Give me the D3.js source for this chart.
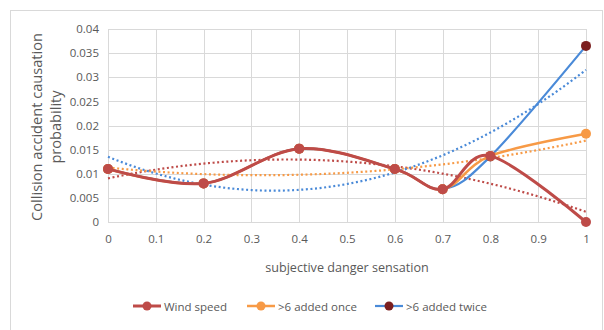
<!DOCTYPE html>
<html>
<head>
<meta charset="utf-8">
<script src="https://cdn.jsdelivr.net/npm/d3@7"></script>
<style>
  html, body { margin: 0; padding: 0; background: #fff; }
  svg text { font-family: "Open Sans", "Noto Sans", sans-serif; fill: #595959; }
</style>
</head>
<body>
<svg id="chart" width="604" height="330"></svg>
<script>
// Subjective danger sensation (x) for each observation
const xValues = [0, 0.2, 0.4, 0.6, 0.7, 0.8, 1];
// Collision accident causation probability per series
const windSpeed   = [0.011, 0.008, 0.0152, 0.011, 0.0068, 0.0137, 0];
const addedOnce   = [0.011, 0.008, 0.0152, 0.011, 0.0068, 0.0137, 0.0183];
const addedTwice  = [0.011, 0.008, 0.0152, 0.011, 0.0068, 0.0136, 0.0365];
const seriesNames = ["Wind speed", ">6 added once", ">6 added twice"];
const xTicks = [0, 0.1, 0.2, 0.3, 0.4, 0.5, 0.6, 0.7, 0.8, 0.9, 1];
const yTicks = [0, 0.005, 0.01, 0.015, 0.02, 0.025, 0.03, 0.035, 0.04];

const series = [
  { name: seriesNames[0], values: windSpeed,  line: "#be4b48", marker: "#be4b48", trend: "#be4b48", width: 3 },
  { name: seriesNames[1], values: addedOnce,  line: "#f79a46", marker: "#f79a46", trend: "#f79a46", width: 2.5 },
  { name: seriesNames[2], values: addedTwice, line: "#4a8ad8", marker: "#7b1f1f", trend: "#4a8ad8", width: 2.2 }
];

const svg = d3.select("#chart");
const plotLeft = 108, plotRight = 586, plotTop = 29, plotBottom = 222;

// outer chart frame
svg.append("rect").attr("x", 10.5).attr("y", 10.5).attr("width", 592).attr("height", 330)
  .attr("fill", "none").attr("stroke", "#d9d9d9");

const x = d3.scaleLinear().domain([0, 1]).range([plotLeft, plotRight]);
const y = d3.scaleLinear().domain([0, 0.04]).range([plotBottom, plotTop]);

// gridlines
svg.append("g").selectAll("line").data(yTicks).join("line")
  .attr("x1", plotLeft).attr("x2", plotRight)
  .attr("y1", d => Math.round(y(d)) + 0.5).attr("y2", d => Math.round(y(d)) + 0.5)
  .attr("stroke", "#d9d9d9").attr("stroke-width", 1);
svg.append("g").selectAll("line").data(xTicks).join("line")
  .attr("y1", plotTop).attr("y2", plotBottom)
  .attr("x1", d => Math.round(x(d)) + 0.5).attr("x2", d => Math.round(x(d)) + 0.5)
  .attr("stroke", "#d9d9d9").attr("stroke-width", 1);

// axes (labels only; lines come from the grid)
const xAxis = svg.append("g").attr("transform", `translate(0,${plotBottom})`)
  .call(d3.axisBottom(x).tickValues(xTicks).tickFormat(d3.format("")).tickSize(0).tickPadding(13));
xAxis.select(".domain").remove();
xAxis.selectAll("text").attr("font-size", 11.5).style("font-family", "'Open Sans', sans-serif").attr("fill", "#595959");

const yAxis = svg.append("g").attr("transform", `translate(${plotLeft},0)`)
  .call(d3.axisLeft(y).tickValues(yTicks).tickFormat(d3.format("")).tickSize(0).tickPadding(9));
yAxis.select(".domain").remove();
yAxis.selectAll("text").attr("font-size", 11.5).style("font-family", "'Open Sans', sans-serif").attr("fill", "#595959");

// axis titles
svg.append("text").attr("transform", "translate(42,127) rotate(-90)")
  .attr("text-anchor", "middle").attr("font-size", 14.6).text("Collision accident causation");
svg.append("text").attr("transform", "translate(61,127) rotate(-90)")
  .attr("text-anchor", "middle").attr("font-size", 14.6).text("probability");
svg.append("text").attr("x", 347).attr("y", 272)
  .attr("text-anchor", "middle").attr("font-size", 12.6).text("subjective danger sensation");

// least-squares polynomial trendline
function polyFit(xs, ys, order) {
  const n = order + 1;
  const A = Array.from({ length: n }, () => new Array(n + 1).fill(0));
  for (let i = 0; i < xs.length; i++) {
    for (let r = 0; r < n; r++) {
      for (let c = 0; c < n; c++) A[r][c] += Math.pow(xs[i], r + c);
      A[r][n] += ys[i] * Math.pow(xs[i], r);
    }
  }
  for (let p = 0; p < n; p++) {
    let m = p;
    for (let r = p + 1; r < n; r++) if (Math.abs(A[r][p]) > Math.abs(A[m][p])) m = r;
    [A[p], A[m]] = [A[m], A[p]];
    for (let r = 0; r < n; r++) {
      if (r === p) continue;
      const f = A[r][p] / A[p][p];
      for (let c = p; c <= n; c++) A[r][c] -= f * A[p][c];
    }
  }
  const coef = A.map((row, i) => row[n] / row[i]);
  return t => coef.reduce((s, c, i) => s + c * Math.pow(t, i), 0);
}

const trendLine = d3.line().x(d => x(d[0])).y(d => y(d[1]));
const samples = d3.range(0, 1.0001, 0.01);
series.forEach(s => {
  const f = polyFit(xValues, s.values, 2);
  svg.append("path")
    .attr("d", trendLine(samples.map(t => [t, f(t)])))
    .attr("fill", "none").attr("stroke", s.trend).attr("stroke-width", 2.2)
    .attr("stroke-dasharray", "2,2.6");
});

// smoothed series lines, drawn so wind speed sits on top
const smooth = d3.line().x(d => x(d[0])).y(d => y(d[1])).curve(d3.curveCardinal.tension(0));
[series[2], series[1], series[0]].forEach(s => {
  const pts = xValues.map((v, i) => [v, s.values[i]]);
  svg.append("path").attr("d", smooth(pts))
    .attr("fill", "none").attr("stroke", s.line).attr("stroke-width", s.width)
    .attr("stroke-linejoin", "round").attr("stroke-linecap", "round");
  svg.append("g").selectAll("circle").data(pts).join("circle")
    .attr("cx", d => x(d[0])).attr("cy", d => y(d[1])).attr("r", 5)
    .attr("fill", s.marker);
});

// legend
const legendX = [133, 247, 375];
series.forEach((s, i) => {
  const g = svg.append("g").attr("transform", `translate(${legendX[i]},306)`);
  g.append("line").attr("x1", 0).attr("x2", 28).attr("stroke", s.line).attr("stroke-width", s.width);
  g.append("circle").attr("cx", 14).attr("r", 4.5).attr("fill", s.marker);
  g.append("text").attr("x", 31).attr("y", 4.5).attr("font-size", 11.5).text(s.name);
});
</script>
</body>
</html>
